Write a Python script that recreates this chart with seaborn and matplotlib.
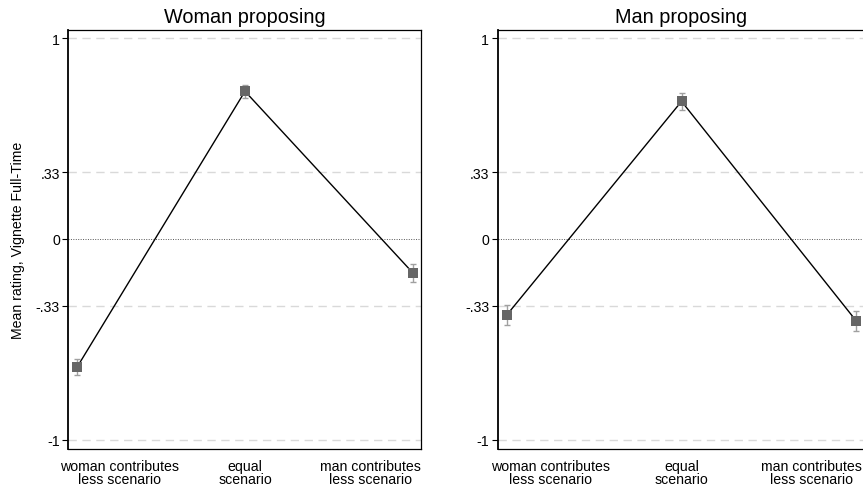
import matplotlib
matplotlib.use("Agg")
import matplotlib.pyplot as plt
import matplotlib.transforms as mtransforms
import seaborn as sns
import pandas as pd
import numpy as np

# ---- data ----
categories = ["woman contributes\nless scenario", "equal\nscenario", "man contributes\nless scenario"]
panel_titles = ["Woman proposing", "Man proposing"]
woman_means = [-0.638, 0.735, -0.169]
woman_err = [0.040, 0.032, 0.047]
man_means = [-0.378, 0.685, -0.408]
man_err = [0.049, 0.042, 0.050]
ytick_vals = [-1, -1/3, 0, 1/3, 1]
ytick_labels = ["-1", "-.33", "0", ".33", "1"]
ylabel = "Mean rating, Vignette Full-Time"

sns.set_theme(style="white")
plt.rcParams['font.family'] = ['Liberation Sans', 'DejaVu Sans']
plt.rcParams.update({"text.color": "black", "axes.labelcolor": "black",
                     "xtick.color": "black", "ytick.color": "black",
                     "axes.titlecolor": "black"})

W, H = 863, 489
DPI = 100
fig = plt.figure(figsize=(W / DPI, H / DPI), dpi=DPI)

# axes positions in pixels: left, right, top, bottom
boxes = [(68.3, 421.0, 31.0, 450.0), (497.7, 864.5, 31.0, 450.0)]
panels = [(woman_means, woman_err), (man_means, man_err)]
# pixel offsets for outer tick labels (first: left-aligned, last: right-aligned)
label_shift = [(-17, 7.7), (-16, 5.7)]

FS = 10.2
for i, ((l, r, t, b), (means, errs), title) in enumerate(zip(boxes, panels, panel_titles)):
    ax = fig.add_axes([l / W, 1 - b / H, (r - l) / W, (b - t) / H])
    df = pd.DataFrame({"x": np.arange(len(categories)), "y": means, "cat": categories})
    for v in ytick_vals:
        if v == 0:
            ax.axhline(0, color="#555555", lw=0.7, ls=(0, (1, 1.5)), zorder=1)
        else:
            ax.axhline(v, color="#d9d9d9", lw=1.0, ls=(0, (6, 4)), zorder=1)
    sns.lineplot(data=df, x="x", y="y", ax=ax, color="black", lw=1.0, zorder=3,
                 sort=False)
    ax.errorbar(df["x"], df["y"], yerr=errs, fmt="none", ecolor="#a0a0a0",
                elinewidth=1.0, capsize=2.5, capthick=1.0, zorder=4)
    sns.scatterplot(data=df, x="x", y="y", ax=ax, marker="s", s=42, color="#666666",
                    edgecolor="#666666", linewidth=0, zorder=5)
    ax.set_xlim(-0.052, 2.048 if i == 0 else 2.047)
    ax.set_ylim(-1.045, 1.04)
    ax.set_xticks(df["x"])
    ax.set_xticklabels(categories, fontsize=FS, linespacing=0.88)
    ax.set_yticks(ytick_vals)
    ax.set_yticklabels(ytick_labels, fontsize=FS)
    ax.tick_params(axis="x", length=0, pad=7.5)
    ax.tick_params(axis="y", length=4, width=0.8, color="black", pad=2, left=True)
    labs = ax.get_xticklabels()
    for lab in labs:
        lab.set_multialignment("center")
    dl, dr = label_shift[i]
    labs[0].set_horizontalalignment("left")
    labs[0].set_transform(labs[0].get_transform() +
                          mtransforms.ScaledTranslation(dl / DPI, 0, fig.dpi_scale_trans))
    labs[-1].set_horizontalalignment("right")
    labs[-1].set_transform(labs[-1].get_transform() +
                           mtransforms.ScaledTranslation(dr / DPI, 0, fig.dpi_scale_trans))
    ax.set_xlabel("")
    ax.set_ylabel(ylabel if i == 0 else "", fontsize=FS, labelpad=8)
    ax.set_title(title, fontsize=14.3, pad=6, color="black")
    for s in ["top", "right", "bottom"]:
        ax.spines[s].set_color("black")
        ax.spines[s].set_linewidth(0.9)
    ax.spines["left"].set_color("black")
    ax.spines["left"].set_linewidth(1.3)
    ax.grid(False)

fig.savefig("out.png", dpi=DPI, facecolor="white")
